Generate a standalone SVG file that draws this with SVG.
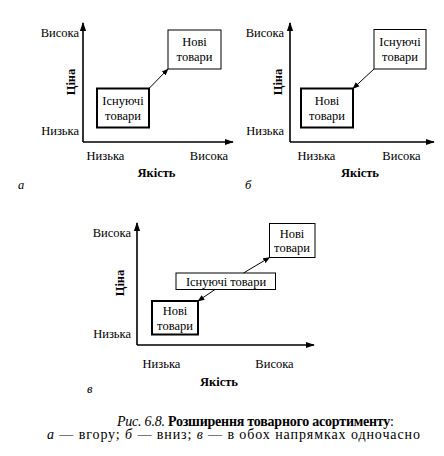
<svg xmlns="http://www.w3.org/2000/svg" width="444" height="456" viewBox="0 0 444 456" font-family="Liberation Serif, DejaVu Serif, serif">
<defs>
<marker id="ah" viewBox="0 0 10 10" refX="9" refY="5" markerWidth="7" markerHeight="7" orient="auto" markerUnits="userSpaceOnUse"><path d="M0,1 L10,5 L0,9 Z" fill="#000"/></marker>
<marker id="ax" viewBox="0 0 10 10" refX="9" refY="5" markerWidth="9" markerHeight="9" orient="auto" markerUnits="userSpaceOnUse"><path d="M0,1.5 L10,5 L0,8.5 Z" fill="#000"/></marker>
</defs>
<style>
text{font-size:12.5px;fill:#000}
.c{text-anchor:middle}
.e{text-anchor:end}
.b{font-weight:bold}
.i{font-style:italic}
.axis{stroke:#000;stroke-width:1.6;fill:none}
.box{fill:#fff;stroke:#000;stroke-width:1}
.tbox{fill:#fff;stroke:#000;stroke-width:2}
.conn{stroke:#000;stroke-width:1;fill:none}
.cap{font-size:14px}
</style>
<rect width="444" height="456" fill="#fff"/>

<!-- Panel a -->
<g id="panel-a">
<line class="axis" x1="83" y1="142" x2="83" y2="23" marker-end="url(#ax)"/>
<line class="axis" x1="83" y1="142" x2="233" y2="142" marker-end="url(#ax)"/>
<text class="e" x="79" y="37">Висока</text>
<text class="e" x="79" y="135">Низька</text>
<text class="b c" x="74.5" y="82" transform="rotate(-90 74.5 82)">Ціна</text>
<text class="c" x="105.5" y="160">Низька</text>
<text class="c" x="209" y="160">Висока</text>
<text class="b c" x="156.5" y="177">Якість</text>
<text class="i" x="18" y="189">а</text>
</g>
<g id="a-existing"><rect class="tbox" x="97" y="88.5" width="52" height="39"/><text class="c" x="123" y="104.5">Існуючі</text><text class="c" x="123" y="120">товари</text></g>
<g id="a-new"><rect class="box" x="168" y="30" width="53" height="39"/><text class="c" x="194.5" y="45.5">Нові</text><text class="c" x="194.5" y="61">товари</text></g>

<!-- Panel b -->
<g id="panel-b">
<line class="axis" x1="290" y1="142" x2="290" y2="23" marker-end="url(#ax)"/>
<line class="axis" x1="290" y1="142" x2="434" y2="142" marker-end="url(#ax)"/>
<text class="e" x="284" y="37">Висока</text>
<text class="e" x="284" y="135">Низька</text>
<text class="b c" x="282" y="82" transform="rotate(-90 282 82)">Ціна</text>
<text class="c" x="316.5" y="160">Низька</text>
<text class="c" x="401.5" y="160">Висока</text>
<text class="b c" x="360" y="177">Якість</text>
<text class="i" x="245" y="189">б</text>
</g>
<g id="b-existing"><rect class="box" x="374" y="29.5" width="52" height="39.5"/><text class="c" x="400" y="45.5">Існуючі</text><text class="c" x="400" y="61">товари</text></g>
<g id="b-new"><rect class="tbox" x="301" y="88.5" width="52" height="39"/><text class="c" x="327" y="104.5">Нові</text><text class="c" x="327" y="120">товари</text></g>

<!-- Panel v -->
<g id="panel-v">
<line class="axis" x1="137" y1="345" x2="137" y2="223" marker-end="url(#ax)"/>
<line class="axis" x1="137" y1="345" x2="314" y2="345" marker-end="url(#ax)"/>
<text class="e" x="131" y="237">Висока</text>
<text class="e" x="131" y="338">Низька</text>
<text class="b c" x="123.5" y="283" transform="rotate(-90 123.5 283)">Ціна</text>
<text class="c" x="161.5" y="367.5">Низька</text>
<text class="c" x="274.5" y="367.5">Висока</text>
<text class="b c" x="219" y="386">Якість</text>
<text class="i" x="87" y="393">в</text>
</g>
<g id="v-new-top"><rect class="box" x="269.5" y="223.5" width="45.5" height="34"/><text class="c" x="292" y="237.5">Нові</text><text class="c" x="292" y="252">товари</text></g>
<g id="v-existing"><rect class="box" x="176" y="273" width="99.5" height="16.5"/><text class="c" x="226" y="285.5">Існуючі товари</text></g>
<g id="v-new-bottom"><rect class="tbox" x="152" y="301" width="46" height="33.5"/><text class="c" x="175" y="315">Нові</text><text class="c" x="175" y="329.5">товари</text></g>

<g id="connectors">
<line class="conn" x1="149" y1="88.5" x2="168" y2="69" marker-end="url(#ah)"/>
<line class="conn" x1="374" y1="69" x2="353" y2="88.5" marker-end="url(#ah)"/>
<line class="conn" x1="243.5" y1="273" x2="269.5" y2="257.5" marker-end="url(#ah)"/>
<line class="conn" x1="215" y1="289.5" x2="198" y2="301" marker-end="url(#ah)"/>
</g>

<g id="caption">
<text class="c cap" x="255.5" y="425.5" textLength="277" lengthAdjust="spacing"><tspan class="i">Рис. 6.8.</tspan> <tspan class="b">Розширення товарного асортименту</tspan>:</text>
<text class="c cap" x="233.5" y="439" textLength="373" lengthAdjust="spacing"><tspan class="i">а</tspan> — вгору; <tspan class="i">б</tspan> — вниз; <tspan class="i">в</tspan> — в обох напрямках одночасно</text>
</g>
</svg>
